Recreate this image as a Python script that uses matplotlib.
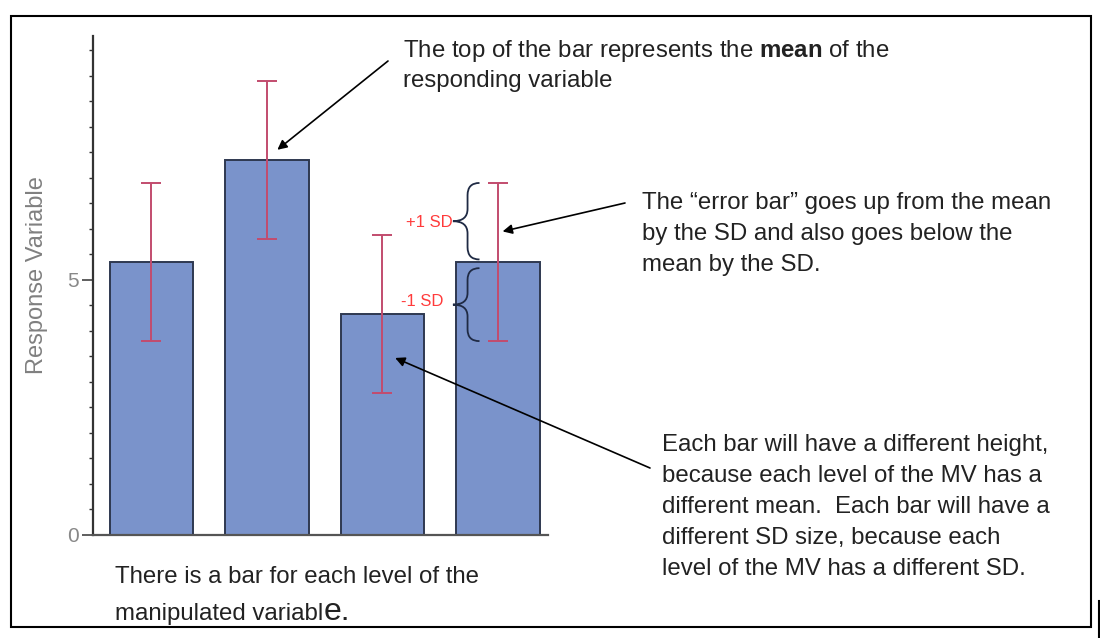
import matplotlib
matplotlib.use('Agg')
import matplotlib.pyplot as plt
from matplotlib.path import Path
from matplotlib.patches import PathPatch, Rectangle
from matplotlib.lines import Line2D
from matplotlib.ticker import MultipleLocator
import numpy as np

plt.rcParams['font.family'] = ['Liberation Sans', 'DejaVu Sans']
plt.rcParams['mathtext.fontset'] = 'custom'
plt.rcParams['mathtext.rm'] = 'Liberation Sans'
plt.rcParams['mathtext.bf'] = 'Liberation Sans:bold'

# data
levels = ['A', 'B', 'C', 'D']
means = [5.35, 7.35, 4.33, 5.35]
sds = [1.55, 1.55, 1.55, 1.55]
yticks = [0, 5]

W, H = 1100, 638

def fx(px):
    return px / W

def fy(py):
    return 1 - py / H

fig = plt.figure(figsize=(W / 100, H / 100), dpi=100)
ax = fig.add_axes([fx(93), fy(535), fx(548) - fx(93), fy(36) - fy(535)])

x = np.arange(len(levels))
ax.bar(x, means, width=0.72, color='#7a93cb', edgecolor='#2e3850', linewidth=1.4,
       yerr=sds, capsize=7,
       error_kw=dict(ecolor='#c24c6e', elinewidth=1.4, capthick=1.4))

ax.set_xlim(-0.506, 3.433)
ax.set_ylim(0, 9.78)
ax.set_xticks([])
ax.set_yticks(yticks)
ax.yaxis.set_minor_locator(MultipleLocator(0.5))
ax.tick_params(axis='y', which='major', length=8, width=1.1, color='#333333',
               labelcolor='#888888', labelsize=15, pad=2)
ax.tick_params(axis='y', which='minor', length=3, width=1.0, color='#333333')
for s in ['top', 'right']:
    ax.spines[s].set_visible(False)
ax.spines['left'].set_color('#333333')
ax.spines['left'].set_linewidth(1.6)
ax.spines['bottom'].set_color('#555555')
ax.spines['bottom'].set_linewidth(1.6)

fig.text(fx(37), fy(275), 'Response Variable', rotation=90, ha='center', va='center',
         fontsize=17, color='#808080')


def brace(ax, x_tip, x_arm, y0, y1, color='#1f2a44'):
    xs = x_tip + 0.55 * (x_arm - x_tip)
    ym = (y0 + y1) / 2
    r = (y1 - y0) * 0.16
    verts = [(x_arm, y1), (xs, y1), (xs, y1 - r),
             (xs, ym + r), (xs, ym), (x_tip, ym),
             (xs, ym), (xs, ym - r),
             (xs, y0 + r), (xs, y0), (x_arm, y0)]
    codes = [Path.MOVETO, Path.CURVE3, Path.CURVE3,
             Path.LINETO, Path.CURVE3, Path.CURVE3,
             Path.CURVE3, Path.CURVE3,
             Path.LINETO, Path.CURVE3, Path.CURVE3]
    ax.add_patch(PathPatch(Path(verts, codes), fill=False, ec=color, lw=1.3,
                           clip_on=False))


# braces next to the last bar
m4, s4 = means[3], sds[3]
brace(ax, 2.61, 2.84, m4 + 0.05, m4 + s4)
brace(ax, 2.61, 2.84, m4 - s4, m4 - 0.12)
ax.text(2.61, m4 + s4 / 2, '+1 SD', color='#ff3b3b', fontsize=12, ha='right', va='center')
ax.text(2.53, m4 - s4 / 2, '-1 SD', color='#ff3b3b', fontsize=12, ha='right', va='center')

txt_color = '#222222'
fs = 17.3
fig.text(fx(403), fy(38), 'The top of the bar represents the $\\mathbf{mean}$ of the\nresponding variable',
         fontsize=fs, color=txt_color, ha='left', va='top', linespacing=1.36)
fig.text(fx(642), fy(192), '\u201cerror bar\u201d'.join(['The ', ' goes up from the mean\nby the SD and also goes below the\nmean by the SD.']),
         fontsize=fs, color=txt_color, ha='left', va='top', linespacing=1.52)
fig.text(fx(662), fy(434), 'Each bar will have a different height,\nbecause each level of the MV has a\n'
         'different mean.  Each bar will have a\ndifferent SD size, because each\n'
         'level of the MV has a different SD.',
         fontsize=fs, color=txt_color, ha='left', va='top', linespacing=1.53)
fig.text(fx(115), fy(566), 'There is a bar for each level of the',
         fontsize=fs, color=txt_color, ha='left', va='top')
t_last = fig.text(fx(115), fy(620), 'manipulated variabl', fontsize=fs, color=txt_color,
                  ha='left', va='baseline')
fig.canvas.draw()
bb = t_last.get_window_extent()
fig.text(bb.x1 / W, fy(620), 'e.', fontsize=23, color=txt_color, ha='left', va='baseline')

arrow = dict(arrowstyle='-|>', color='black', lw=1.2, mutation_scale=14, shrinkA=0, shrinkB=0)
ax.annotate('', xy=(1.09, means[1] + 0.2), xytext=(fx(388), fy(61)),
            textcoords='figure fraction', arrowprops=arrow, annotation_clip=False)
ax.annotate('', xy=(3.04, m4 + 0.6), xytext=(fx(625), fy(203)),
            textcoords='figure fraction', arrowprops=arrow, annotation_clip=False)
ax.annotate('', xy=(2.11, means[2] - 0.86), xytext=(fx(650), fy(468)),
            textcoords='figure fraction', arrowprops=arrow, annotation_clip=False)

# outer frame of the screenshot
fig.patches.append(Rectangle((fx(11), fy(627)), fx(1091) - fx(11), fy(16) - fy(627),
                             transform=fig.transFigure, fill=False, ec='black', lw=1.5))
fig.lines.append(Line2D([fx(1099), fx(1099)], [fy(601), fy(638)], transform=fig.transFigure,
                        color='black', lw=1.5))

fig.savefig('out.png', dpi=100)
